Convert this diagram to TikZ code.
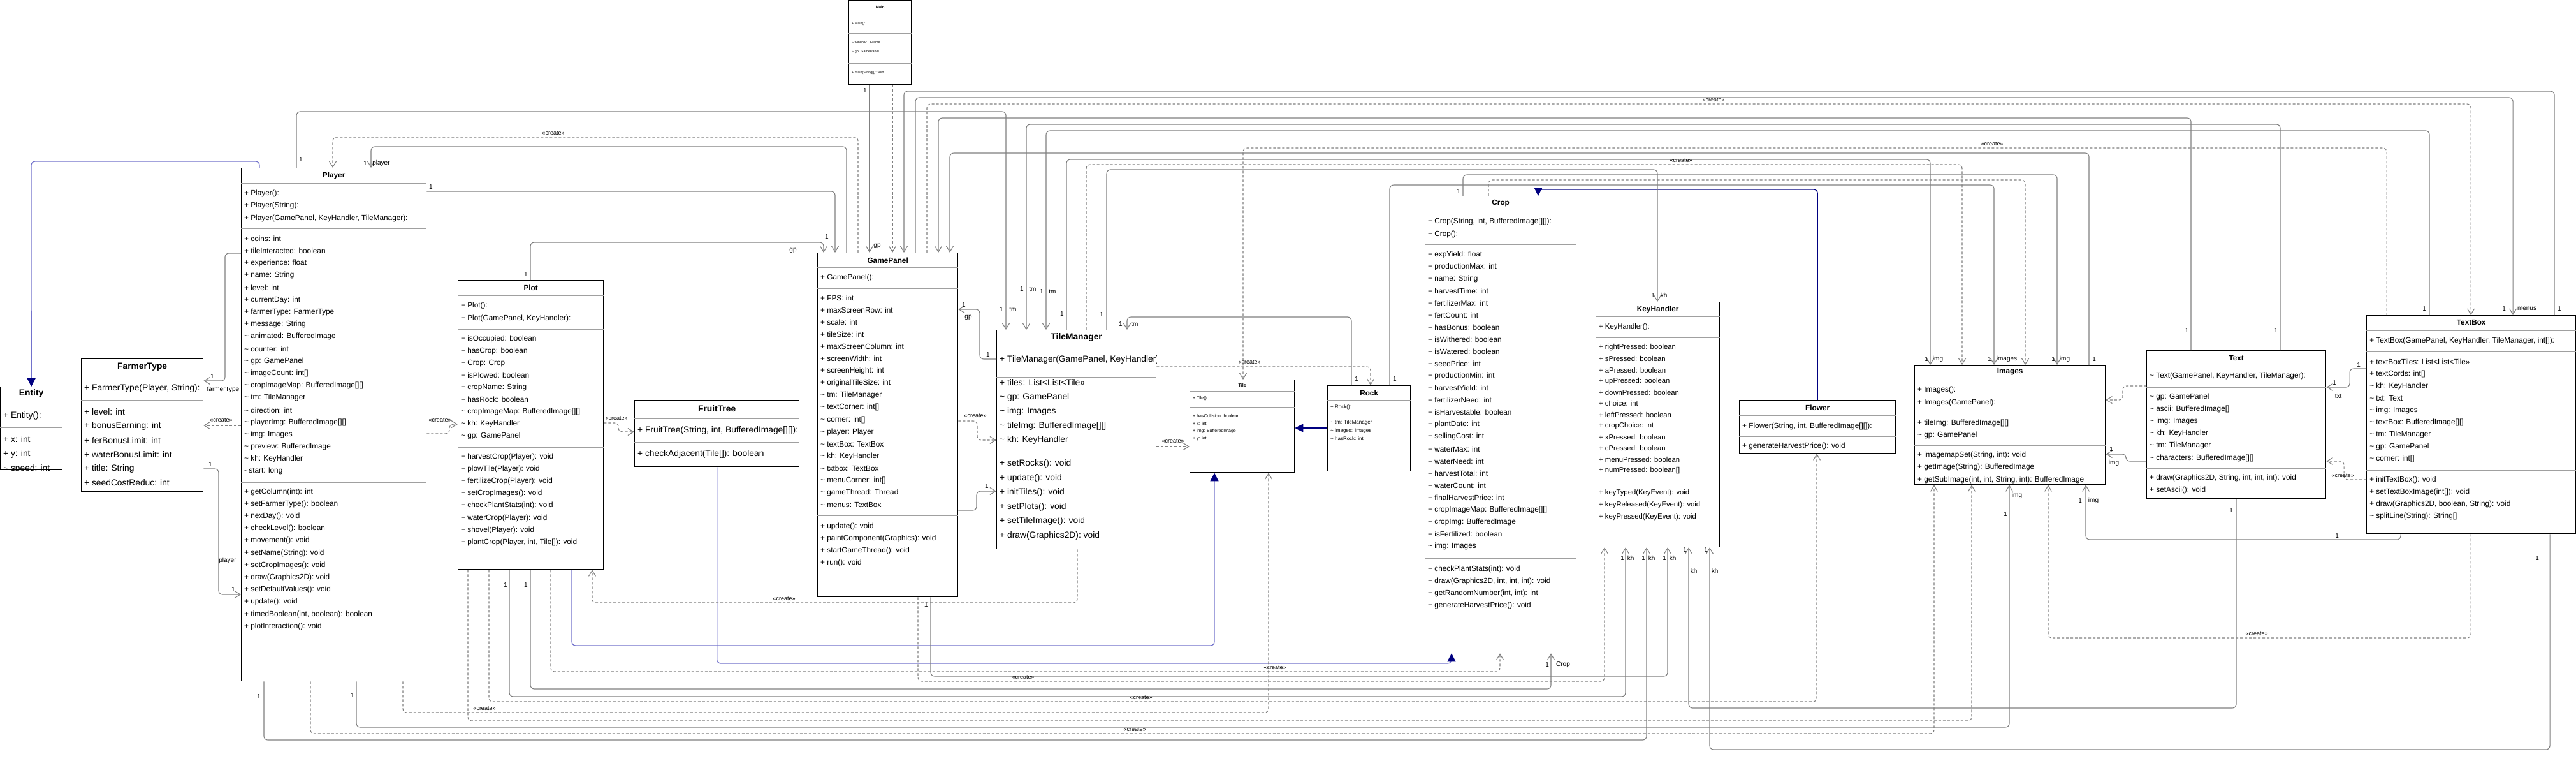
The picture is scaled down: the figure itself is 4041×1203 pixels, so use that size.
\documentclass[tikz,border=0pt]{standalone}
\usepackage{fontspec}
\setmainfont{Liberation Sans}
\usetikzlibrary{positioning, calc, arrows.meta}

\definecolor{linegray}{HTML}{808080}
\definecolor{divgray}{HTML}{A0A0A0}
\definecolor{genblue}{HTML}{7272CC}
\definecolor{navyc}{HTML}{000080}

\newcommand{\til}{\textasciitilde}
\newcommand{\fbig}{\fontsize{13.8}{16}\selectfont}
\newcommand{\fmid}{\fontsize{11.8}{14}\selectfont}
\newcommand{\fkh}{\fontsize{11.3}{13}\selectfont}
\newcommand{\frock}{\fontsize{8}{9}\selectfont}
\newcommand{\ftile}{\fontsize{7}{8}\selectfont}
\newcommand{\fmain}{\fontsize{5.4}{6}\selectfont}

% rows of one compartment: [style]{node}{first y}{step}{list}
\newcommand{\members}[5][]{%
  \foreach \txt [count=\k from 0] in {#5}
    \node[member,#1] at ($(#2.west |- 0,#3)+(5,\k*#4)$) {\txt};}
\newcommand{\divider}[2]{\draw[divider] (#1.west |- 0,#2) -- (#1.east |- 0,#2);}
\newcommand{\heading}[4][]{\node[heading,#1] at (#2.north |- 0,#3) {#4};}

\tikzset{
  classbox/.style={draw=black, line width=1.3pt, fill=white, anchor=north west, inner sep=0pt},
  heading/.style={inner sep=0pt, font=\bfseries\fmid},
  member/.style={anchor=west, inner sep=0pt, font=\fmid},
  divider/.style={draw=divgray, line width=1pt},
  assoc/.style={draw=linegray, line width=1.1pt, rounded corners=6pt, -{Straight Barb[length=9pt,width=11pt]}},
  create/.style={assoc, dash pattern=on 4pt off 3pt},
  extends/.style={draw=genblue, line width=1.3pt, rounded corners=6pt, -{Triangle[length=13pt,width=13pt,color=navyc,fill=navyc]}},
  mult/.style={inner sep=0pt, font=\fontsize{10}{11}\selectfont},
  stereo/.style={inner sep=0pt, font=\fontsize{9}{10}\selectfont},
}

\begin{document}
\begin{tikzpicture}[x=1pt, y=-1pt]
\useasboundingbox (0,0) rectangle (4041,1203);
\fill[white] (0,0) rectangle (4041,1203);

% ---------- classes ----------
\node[classbox, minimum width=97, minimum height=130] (entity) at (0,606) {};
\heading[font=\bfseries\fbig]{entity}{617}{Entity}
\divider{entity}{633}
\members[font=\fbig]{entity}{652}{0}{{+ Entity():}}
\divider{entity}{670}
\begin{scope}
  \clip (entity.north west) rectangle (entity.south east);
  \members[font=\fbig]{entity}{689}{23}{{+ x: int},{+ y: int},{\til{} speed: int}}
\end{scope}

\node[classbox, minimum width=191, minimum height=208] (farmer) at (127,562) {};
\heading[font=\bfseries\fbig]{farmer}{575}{FarmerType}
\divider{farmer}{589}
\members[font=\fbig]{farmer}{609}{0}{{+ FarmerType(Player, String):}}
\divider{farmer}{627}
\members[font=\fbig]{farmer}{646}{22.2}{{+ level: int},{+ bonusEarning: int},{+ ferBonusLimit: int},{+ waterBonusLimit: int},{+ title: String},{+ seedCostReduc: int}}

\node[classbox, minimum width=290, minimum height=804] (player) at (378,263) {};
\heading{player}{275}{Player}
\divider{player}{287}
\members{player}{303}{19.5}{{+ Player():},{+ Player(String):},{+ Player(GamePanel, KeyHandler, TileManager):}}
\divider{player}{358}
\members{player}{374}{19.2}{{+ coins: int},{+ tileInteracted: boolean},{+ experience: float},{+ name: String},{+ level: int},{+ currentDay: int},{+ farmerType: FarmerType},{+ message: String},{\til{} animated: BufferedImage},{\til{} counter: int},{\til{} gp: GamePanel},{\til{} imageCount: int[]},{\til{} cropImageMap: BufferedImage[][]},{\til{} tm: TileManager},{\til{} direction: int},{\til{} playerImg: BufferedImage[][]},{\til{} img: Images},{\til{} preview: BufferedImage},{\til{} kh: KeyHandler},{- start: long}}
\divider{player}{756}
\members{player}{771}{19.2}{{+ getColumn(int): int},{+ setFarmerType(): boolean},{+ nexDay(): void},{+ checkLevel(): boolean},{+ movement(): void},{+ setName(String): void},{+ setCropImages(): void},{+ draw(Graphics2D): void},{+ setDefaultValues(): void},{+ update(): void},{+ timedBoolean(int, boolean): boolean},{+ plotInteraction(): void}}

\node[classbox, minimum width=228, minimum height=453] (plot) at (718,439) {};
\heading{plot}{451}{Plot}
\divider{plot}{463}
\members{plot}{479}{20}{{+ Plot():},{+ Plot(GamePanel, KeyHandler):}}
\divider{plot}{516}
\members{plot}{531}{19.1}{{+ isOccupied: boolean},{+ hasCrop: boolean},{+ Crop: Crop},{+ isPlowed: boolean},{+ cropName: String},{+ hasRock: boolean},{\til{} cropImageMap: BufferedImage[][]},{\til{} kh: KeyHandler},{\til{} gp: GamePanel}}
\divider{plot}{701}
\members{plot}{716}{19.2}{{+ harvestCrop(Player): void},{+ plowTile(Player): void},{+ fertilizeCrop(Player): void},{+ setCropImages(): void},{+ checkPlantStats(int): void},{+ waterCrop(Player): void},{+ shovel(Player): void},{+ plantCrop(Player, int, Tile[]): void}}

\node[classbox, minimum width=258, minimum height=104] (fruit) at (995,627) {};
\heading[font=\bfseries\fbig]{fruit}{641}{FruitTree}
\divider{fruit}{656}
\begin{scope}
  \clip (fruit.north west) rectangle (fruit.south east);
  \members[font=\fbig]{fruit}{675}{0}{{+ FruitTree(String, int, BufferedImage[][]):}}
\end{scope}
\divider{fruit}{693}
\members[font=\fbig]{fruit}{712}{0}{{+ checkAdjacent(Tile[]): boolean}}

\node[classbox, minimum width=220, minimum height=539] (gp) at (1282,396) {};
\heading{gp}{408}{GamePanel}
\divider{gp}{419}
\members{gp}{435}{0}{{+ GamePanel():}}
\divider{gp}{452}
\members{gp}{467}{19.1}{{+ FPS: int},{+ maxScreenRow: int},{+ scale: int},{+ tileSize: int},{+ maxScreenColumn: int},{+ screenWidth: int},{+ screenHeight: int},{+ originalTileSize: int},{\til{} tm: TileManager},{\til{} textCorner: int[]},{\til{} corner: int[]},{\til{} player: Player},{\til{} textBox: TextBox},{\til{} kh: KeyHandler},{\til{} txtbox: TextBox},{\til{} menuCorner: int[]},{\til{} gameThread: Thread},{\til{} menus: TextBox}}
\divider{gp}{808}
\members{gp}{825}{19.3}{{+ update(): void},{+ paintComponent(Graphics): void},{+ startGameThread(): void},{+ run(): void}}

\node[classbox, minimum width=98, minimum height=132] (mainbox) at (1331,0) {};
\heading[font=\bfseries\fontsize{6}{7}\selectfont]{mainbox}{11}{Main}
\divider{mainbox}{23}
\members[font=\fmain]{mainbox}{37}{0}{{+ Main():}}
\divider{mainbox}{52}
\members[font=\fmain]{mainbox}{67}{14}{{\til{} window: JFrame},{\til{} gp: GamePanel}}
\divider{mainbox}{99}
\members[font=\fmain]{mainbox}{114}{0}{{+ main(String[]): void}}

\node[classbox, minimum width=250, minimum height=343] (tilemgr) at (1563,517) {};
\heading[font=\bfseries\fbig]{tilemgr}{529}{TileManager}
\divider{tilemgr}{545}
\begin{scope}
  \clip (tilemgr.north west) rectangle (tilemgr.south east);
  \members[font=\fbig]{tilemgr}{564}{0}{{+ TileManager(GamePanel, KeyHandler):}}
\end{scope}
\divider{tilemgr}{591}
\members[font=\fbig]{tilemgr}{600}{22.5}{{+ tiles: List<List<Tile>>},{\til{} gp: GamePanel},{\til{} img: Images},{\til{} tileImg: BufferedImage[][]},{\til{} kh: KeyHandler}}
\divider{tilemgr}{708}
\members[font=\fbig]{tilemgr}{727}{22.6}{{+ setRocks(): void},{+ update(): void},{+ initTiles(): void},{+ setPlots(): void},{+ setTileImage(): void},{+ draw(Graphics2D): void}}

\node[classbox, minimum width=164, minimum height=145] (tile) at (1866,595) {};
\heading[font=\bfseries\ftile]{tile}{604}{Tile}
\divider{tile}{613}
\members[font=\ftile]{tile}{625}{0}{{+ Tile():}}
\divider{tile}{638}
\members[font=\ftile]{tile}{652}{12}{{+ hasCollision: boolean},{+ x: int},{+ img: BufferedImage},{+ y: int}}
\divider{tile}{702}

\node[classbox, minimum width=130, minimum height=134] (rock) at (2082,604) {};
\heading{rock}{616}{Rock}
\divider{rock}{627}
\members[font=\frock]{rock}{638}{0}{{+ Rock():}}
\divider{rock}{650}
\members[font=\frock]{rock}{662}{13}{{\til{} tm: TileManager},{\til{} images: Images},{\til{} hasRock: int}}
\divider{rock}{700}

\node[classbox, minimum width=237, minimum height=716] (crop) at (2235,307) {};
\heading{crop}{319}{Crop}
\divider{crop}{332}
\members{crop}{347}{20}{{+ Crop(String, int, BufferedImage[][]):},{+ Crop():}}
\divider{crop}{383}
\members{crop}{399}{19.05}{{+ expYield: float},{+ productionMax: int},{+ name: String},{+ harvestTime: int},{+ fertilizerMax: int},{+ fertCount: int},{+ hasBonus: boolean},{+ isWithered: boolean},{+ isWatered: boolean},{+ seedPrice: int},{+ productionMin: int},{+ harvestYield: int},{+ fertilizerNeed: int},{+ isHarvestable: boolean},{+ plantDate: int},{+ sellingCost: int},{+ waterMax: int},{+ waterNeed: int},{+ harvestTotal: int},{+ waterCount: int},{+ finalHarvestPrice: int},{+ cropImageMap: BufferedImage[][]},{+ cropImg: BufferedImage},{+ isFertilized: boolean},{\til{} img: Images}}
\divider{crop}{875}
\members{crop}{892}{19.1}{{+ checkPlantStats(int): void},{+ draw(Graphics2D, int, int, int): void},{+ getRandomNumber(int, int): int},{+ generateHarvestPrice(): void}}

\node[classbox, minimum width=194, minimum height=384] (keyh) at (2503,473) {};
\heading{keyh}{485}{KeyHandler}
\divider{keyh}{496}
\members[font=\fkh]{keyh}{513}{0}{{+ KeyHandler():}}
\divider{keyh}{529}
\members[font=\fkh]{keyh}{545}{17.5}{{+ rightPressed: boolean},{+ sPressed: boolean},{+ aPressed: boolean},{+ upPressed: boolean},{+ downPressed: boolean},{+ choice: int},{+ leftPressed: boolean},{+ cropChoice: int},{+ xPressed: boolean},{+ cPressed: boolean},{+ menuPressed: boolean},{+ numPressed: boolean[]}}
\divider{keyh}{755}
\members[font=\fkh]{keyh}{773}{19}{{+ keyTyped(KeyEvent): void},{+ keyReleased(KeyEvent): void},{+ keyPressed(KeyEvent): void}}

\node[classbox, minimum width=245, minimum height=83] (flower) at (2728,627) {};
\heading{flower}{639}{Flower}
\divider{flower}{651}
\members{flower}{668}{0}{{+ Flower(String, int, BufferedImage[][]):}}
\divider{flower}{684}
\members{flower}{699}{0}{{+ generateHarvestPrice(): void}}

\node[classbox, minimum width=299, minimum height=187] (images) at (3003,572) {};
\heading{images}{583}{Images}
\divider{images}{595}
\members{images}{611}{20}{{+ Images():},{+ Images(GamePanel):}}
\divider{images}{647}
\members{images}{663}{19}{{+ tileImg: BufferedImage[][]},{\til{} gp: GamePanel}}
\divider{images}{698}
\members{images}{713}{19.5}{{+ imagemapSet(String, int): void},{+ getImage(String): BufferedImage},{+ getSubImage(int, int, String, int): BufferedImage}}

\node[classbox, minimum width=281, minimum height=232] (textcls) at (3367,549) {};
\heading{textcls}{561}{Text}
\divider{textcls}{573}
\members{textcls}{589}{0}{{\til{} Text(GamePanel, KeyHandler, TileManager):}}
\divider{textcls}{607}
\members{textcls}{622}{19.2}{{\til{} gp: GamePanel},{\til{} ascii: BufferedImage[]},{\til{} img: Images},{\til{} kh: KeyHandler},{\til{} tm: TileManager},{\til{} characters: BufferedImage[][]}}
\divider{textcls}{734}
\members{textcls}{749}{19}{{+ draw(Graphics2D, String, int, int, int): void},{+ setAscii(): void}}

\node[classbox, minimum width=328, minimum height=342] (textbox) at (3712,494) {};
\heading{textbox}{505}{TextBox}
\divider{textbox}{518}
\members{textbox}{534}{0}{{+ TextBox(GamePanel, KeyHandler, TileManager, int[]):}}
\divider{textbox}{551}
\members{textbox}{567}{19}{{+ textBoxTiles: List<List<Tile>>},{+ textCords: int[]},{\til{} kh: KeyHandler},{\til{} txt: Text},{\til{} img: Images},{\til{} textBox: BufferedImage[][]},{\til{} tm: TileManager},{\til{} gp: GamePanel},{\til{} corner: int[]}}
\divider{textbox}{737}
\members{textbox}{752}{19.3}{{+ initTextBox(): void},{+ setTextBoxImage(int[]): void},{+ draw(Graphics2D, boolean, String): void},{\til{} splitLine(String): String[]}}

% ---------- generalisations ----------
\draw[extends] (407,0 |- player.north) |- (49,253) -- (entity.north);
\draw[extends] (897,0 |- plot.south) |- (1905,1012) -- (1905,0 |- tile.south);
\draw[extends] (fruit.south) |- (2277,1040) -- (2277,0 |- crop.south);
\draw[extends, draw=navyc] (flower.north) |- (2413,297) -- (2413,0 |- crop.north);
\draw[extends, draw=navyc] (rock.west |- 0,671) -- (tile.east |- 0,671);

% ---------- left side ----------
\draw[assoc] (player.west |- 0,397) -| (353,597) -- (farmer.east |- 0,597);
\node[mult] at (333,590) {1};
\node[mult] at (350,611) {farmerType};
\draw[create] (player.west |- 0,667) -- (farmer.east |- 0,667);
\node[stereo] at (347,659) {«create»};
\draw[assoc] (farmer.east |- 0,735) -| (343,932) -- (player.west |- 0,932);
\node[mult] at (330,728) {1};
\node[mult] at (357,879) {player};
\node[mult] at (366,924) {1};
\draw[create] (player.east |- 0,680) -| (705,665) -- (plot.west |- 0,665);
\node[stereo] at (690,659) {«create»};
\draw[create] (plot.east |- 0,663) -| (970,677) -- (fruit.west |- 0,677);
\node[stereo] at (967,656) {«create»};

% ---------- around GamePanel and TileManager ----------
\draw[assoc] (832,0 |- plot.north) |- (1292,380) -- (1292,0 |- gp.north);
\node[mult] at (825,430) {1};
\node[mult] at (1297,371) {1};
\node[mult] at (1244,393) {gp};
\draw[assoc] (player.east |- 0,300) -| (1310,0 |- gp.north);
\node[mult] at (676,293) {1};
\draw[assoc] (1328,0 |- gp.north) |- (582,230) -- (582,0 |- player.north);
\node[mult] at (573,256) {1};
\node[mult] at (598,256) {player};
\draw[create] (1346,0 |- gp.north) |- (522,215) -- (522,0 |- player.north);
\node[stereo] at (868,209) {«create»};
\draw[assoc] (1364,0 |- mainbox.south) -- (1364,0 |- gp.north);
\node[mult] at (1357,142) {1};
\node[mult] at (1376,386) {gp};
\draw[create] (1400,0 |- mainbox.south) -- (1400,0 |- gp.north);
\draw[assoc] (tilemgr.west |- 0,563) -| (1537,485) -- (gp.east |- 0,485);
\node[mult] at (1550,556) {1};
\node[mult] at (1512,478) {1};
\node[mult] at (1519,498) {gp};
\draw[create] (gp.east |- 0,660) -| (1533,690) -- (tilemgr.west |- 0,690);
\node[stereo] at (1530,652) {«create»};
\draw[assoc] (gp.east |- 0,800) -| (1532,770) -- (tilemgr.west |- 0,770);
\node[mult] at (1548,762) {1};
\draw[create] (tilemgr.east |- 0,700) -- (tile.west |- 0,700);
\node[stereo] at (1840,692) {«create»};
\draw[create] (tilemgr.east |- 0,575) -| (2150,0 |- rock.north);
\node[stereo] at (1960,568) {«create»};
\draw[assoc] (2120,0 |- rock.north) |- (1768,497) -- (1768,0 |- tilemgr.north);
\node[mult] at (1758,508) {1};
\node[mult] at (1780,508) {tm};
\node[mult] at (2128,594) {1};

% ---------- top lanes ----------
\draw[assoc] (4007,0 |- textbox.north) |- (1418,143) -- (1418,0 |- gp.north);
\node[mult] at (4015,484) {1};
\draw[assoc] (1436,0 |- gp.north) |- (3942,153) -- (3942,0 |- textbox.north);
\node[mult] at (3928,484) {1};
\node[mult] at (3964,484) {menus};
\draw[create] (1454,0 |- gp.north) |- (3876,163) -- (3876,0 |- textbox.north);
\node[stereo] at (2688,157) {«create»};
\draw[assoc] (465,0 |- player.north) |- (1578,175) -- (1578,0 |- tilemgr.north);
\node[mult] at (472,250) {1};
\node[mult] at (1571,485) {1};
\node[mult] at (1589,485) {tm};
\draw[assoc] (3437,0 |- textcls.north) |- (1472,185) -- (1472,0 |- gp.north);
\node[mult] at (3430,518) {1};
\draw[assoc] (3577,0 |- textcls.north) |- (1610,195) -- (1610,0 |- tilemgr.north);
\node[mult] at (3570,518) {1};
\node[mult] at (1603,453) {1};
\node[mult] at (1620,453) {tm};
\draw[assoc] (3811,0 |- textbox.north) |- (1641,205) -- (1641,0 |- tilemgr.north);
\node[mult] at (3803,484) {1};
\node[mult] at (1634,457) {1};
\node[mult] at (1651,457) {tm};
\draw[create] (3744,0 |- textbox.north) |- (1950,232) -- (1950,0 |- tile.north);
\node[stereo] at (3125,226) {«create»};
\draw[assoc] (3277,0 |- images.north) |- (1490,240) -- (1490,0 |- gp.north);
\node[mult] at (3285,563) {1};
\draw[assoc] (1673,0 |- tilemgr.north) |- (3028,250) -- (3028,0 |- images.north);
\node[mult] at (1666,492) {1};
\node[mult] at (3022,563) {1};
\node[mult] at (3040,563) {img};
\draw[create] (1704,0 |- tilemgr.north) |- (3078,258) -- (3078,0 |- images.north);
\node[stereo] at (2637,252) {«create»};
\draw[assoc] (1736,0 |- tilemgr.north) |- (2600,266) -- (2600,0 |- keyh.north);
\node[mult] at (1728,493) {1};
\node[mult] at (2593,463) {1};
\node[mult] at (2610,463) {kh};
\draw[assoc] (2295,0 |- crop.north) |- (3227,274) -- (3227,0 |- images.north);
\node[mult] at (2288,300) {1};
\node[mult] at (3221,563) {1};
\node[mult] at (3239,563) {img};
\draw[create] (2335,0 |- crop.north) |- (3177,282) -- (3177,0 |- images.north);
\draw[assoc] (2180,0 |- rock.north) |- (3128,290) -- (3128,0 |- images.north);
\node[mult] at (2188,594) {1};
\node[mult] at (3121,563) {1};
\node[mult] at (3148,563) {images};

% ---------- bottom lanes ----------
\draw[create] (1690,0 |- tilemgr.south) |- (929,945) -- (929,0 |- plot.south);
\node[stereo] at (1230,939) {«create»};
\draw[create] (864,0 |- plot.south) |- (2353,1053) -- (2353,0 |- crop.south);
\node[stereo] at (2000,1047) {«create»};
\draw[assoc] (1460,0 |- gp.south) |- (2616,1060) -- (2616,0 |- keyh.south);
\node[mult] at (1453,948) {1};
\node[mult] at (2611,875) {1};
\node[mult] at (2624,875) {kh};
\draw[create] (1440,0 |- gp.south) |- (2517,1068) -- (2517,0 |- keyh.south);
\node[stereo] at (1605,1062) {«create»};
\draw[assoc] (832,0 |- plot.south) |- (2433,1080) -- (2433,0 |- crop.south);
\node[mult] at (825,917) {1};
\node[mult] at (2427,1042) {1};
\node[mult] at (2452,1042) {Crop};
\draw[assoc] (799,0 |- plot.south) |- (2550,1092) -- (2550,0 |- keyh.south);
\node[mult] at (793,917) {1};
\node[mult] at (2545,875) {1};
\node[mult] at (2558,875) {kh};
\draw[create] (767,0 |- plot.south) |- (2850,1100) -- (2850,0 |- flower.south);
\node[stereo] at (1790,1094) {«create»};
\draw[assoc] (3508,0 |- textcls.south) |- (2649,1110) -- (2649,0 |- keyh.south);
\node[mult] at (3500,800) {1};
\node[mult] at (2643,862) {1};
\node[mult] at (2657,895) {kh};
\draw[create] (632,0 |- player.south) |- (1990,1117) -- (1990,0 |- tile.south);
\node[stereo] at (760,1111) {«create»};
\draw[create] (734,0 |- plot.south) |- (3093,1130) -- (3093,0 |- images.south);
\draw[assoc] (559,0 |- player.south) |- (3152,1140) -- (3152,0 |- images.south);
\node[mult] at (553,1090) {1};
\node[mult] at (3164,777) {img};
\node[mult] at (3146,806) {1};
\draw[create] (487,0 |- player.south) |- (3034,1150) -- (3034,0 |- images.south);
\node[stereo] at (1780,1144) {«create»};
\draw[assoc] (414,0 |- player.south) |- (2583,1160) -- (2583,0 |- keyh.south);
\node[mult] at (406,1092) {1};
\node[mult] at (2578,875) {1};
\node[mult] at (2591,875) {kh};
\draw[assoc] (4000,0 |- textbox.south) |- (2682,1175) -- (2682,0 |- keyh.south);
\node[mult] at (3980,875) {1};
\node[mult] at (2676,862) {1};
\node[mult] at (2690,895) {kh};
\draw[assoc] (3766,0 |- textbox.south) |- (3272,846) -- (3272,0 |- images.south);
\node[mult] at (3666,840) {1};
\node[mult] at (3263,785) {1};
\node[mult] at (3284,785) {img};
\draw[create] (3876,0 |- textbox.south) |- (3213,1000) -- (3213,0 |- images.south);
\node[stereo] at (3540,994) {«create»};

% ---------- Text / TextBox / Images ----------
\draw[assoc] (textbox.west |- 0,578) -| (3686,607) -- (textcls.east |- 0,607);
\node[mult] at (3700,572) {1};
\node[mult] at (3662,600) {1};
\node[mult] at (3668,621) {txt};
\draw[create] (textbox.west |- 0,752) -| (3677,723) -- (textcls.east |- 0,723);
\node[stereo] at (3675,746) {«create»};
\draw[assoc] (textcls.west |- 0,723) -| (3335,712) -- (images.east |- 0,712);
\node[mult] at (3312,704) {1};
\node[mult] at (3316,726) {img};
\draw[create] (textcls.west |- 0,605) -| (3330,627) -- (images.east |- 0,627);
\end{tikzpicture}
\end{document}
